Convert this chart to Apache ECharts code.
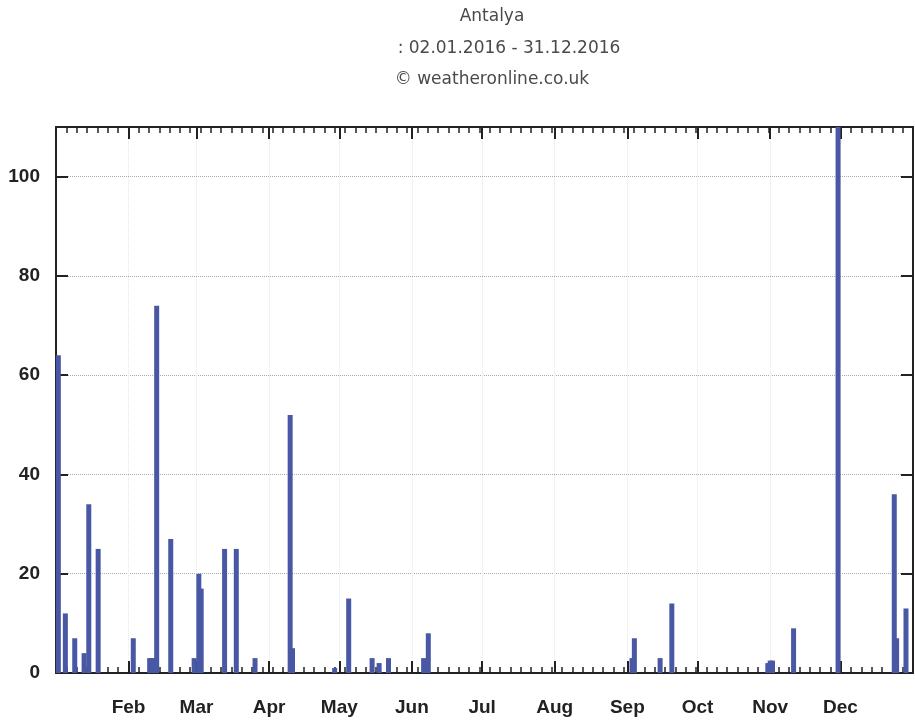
<!DOCTYPE html>
<html><head><meta charset="utf-8">
<script src="https://cdn.jsdelivr.net/npm/echarts@6/dist/echarts.min.js"></script>
<style>html,body{margin:0;padding:0;background:#fff}#c{width:915px;height:721px}</style>
</head><body><div id="c"></div>
<script>
const titleLines = ['Antalya', ': 02.01.2016 - 31.12.2016', '\u00A9 weatheronline.co.uk'];
const monthLabels = ['Jan','Feb','Mar','Apr','May','Jun','Jul','Aug','Sep','Oct','Nov','Dec'];
const monthStartDates = ['2016-01-01','2016-02-01','2016-03-01','2016-04-01','2016-05-01','2016-06-01','2016-07-01','2016-08-01','2016-09-01','2016-10-01','2016-11-01','2016-12-01'];
const yTickValues = [0, 20, 40, 60, 80, 100];
const rainDates = ['2016-01-02','2016-01-05','2016-01-09','2016-01-13','2016-01-15','2016-01-19',
  '2016-02-03','2016-02-10','2016-02-11','2016-02-12','2016-02-13','2016-02-19','2016-02-29',
  '2016-03-02','2016-03-03','2016-03-13','2016-03-18','2016-03-26',
  '2016-04-10','2016-04-11','2016-04-29',
  '2016-05-05','2016-05-15','2016-05-18','2016-05-22',
  '2016-06-06','2016-06-08',
  '2016-09-03','2016-09-04','2016-09-15','2016-09-20',
  '2016-10-31','2016-11-01','2016-11-02','2016-11-11','2016-11-30',
  '2016-12-24','2016-12-25','2016-12-29'];
const rainValues = [64,12,7,4,34,25,
  7,3,3,3,74,27,3,
  20,17,25,25,3,
  52,5,1,
  15,3,2,3,
  3,8,
  3,7,3,14,
  2,2.5,2.5,9,115,
  36,7,13];

const DAY = 86400000;
const yearStart = Date.UTC(2016,0,1);
function dayOffset(s){ const p = s.split('-').map(Number); return (Date.UTC(p[0],p[1]-1,p[2]) - yearStart)/DAY; }
const monthStarts = monthStartDates.map(dayOffset);
const labelPositions = monthStarts.slice(1);
const barData = rainDates.map((d,i)=>[dayOffset(d), rainValues[i]]);
const DAYS = 366;
const minorInterval = DAYS/83;

const axisColor = '#222';
const font = 'Liberation Sans, Arial, sans-serif';
const titleFont = 'DejaVu Sans, Verdana, sans-serif';

function majorX(pos, showLabel){
  return {type:'value', min:0, max:DAYS, position:pos, gridIndex:0,
    axisLine:{show:true, onZero:false, lineStyle:{color:axisColor, width:2}},
    axisTick:{show:true, inside:true, length:12, customValues:labelPositions, lineStyle:{color:axisColor, width:2}},
    axisLabel:{show:showLabel, customValues:labelPositions, margin:25, fontSize:19, fontWeight:'bold', color:'#222', fontFamily:font,
      formatter:(v)=>{ const i = monthStarts.indexOf(Math.round(v)); return i>=0 ? monthLabels[i] : ''; }},
    splitLine:{show:showLabel, lineStyle:{type:'dotted', color:'#e6e6e6', width:1}}};
}
function minorX(pos){
  return {type:'value', min:0, max:DAYS, interval:minorInterval, position:pos, gridIndex:0,
    axisLine:{show:false, onZero:false}, axisTick:{show:true, inside:true, length:6, lineStyle:{color:axisColor, width:1.5}},
    axisLabel:{show:false}, splitLine:{show:false}};
}
function yAx(pos, showLabel){
  return {type:'value', min:0, max:110, interval:20, position:pos,
    axisLine:{show:true, onZero:false, lineStyle:{color:axisColor, width:2}},
    axisTick:{show:true, inside:true, length:12, lineStyle:{color:axisColor, width:2}},
    axisLabel:{show:showLabel, showMaxLabel:false, margin:16, fontSize:19, fontWeight:'bold', color:'#222', fontFamily:font},
    splitLine:{show:showLabel, lineStyle:{type:'dotted', color:'#aaaaaa', width:1}}};
}

const chart = echarts.init(document.getElementById('c'), null, {renderer:'canvas'});
const tStyle = {fontSize:17, fontWeight:'normal', color:'#4a4a4a', fontFamily:titleFont};
chart.setOption({
  animation:false,
  backgroundColor:'#fff',
  title: [
    {text:titleLines[0], left:487, top:3, textAlign:'center', textStyle:tStyle},
    {text:titleLines[1], left:504, top:35, textAlign:'center', textStyle:tStyle},
    {text:titleLines[2], left:487, top:66, textAlign:'center', textStyle:tStyle}
  ],
  grid:{left:56, right:2, top:127, bottom:48, containLabel:false},
  xAxis:[majorX('bottom', true), minorX('bottom'), majorX('top', false), minorX('top')],
  yAxis:[yAx('left', true), yAx('right', false)],
  series:[{type:'bar', xAxisIndex:0, yAxisIndex:0, data:barData, barWidth:5, clip:true,
    itemStyle:{color:'#4858a4'}}]
});
</script></body></html>
